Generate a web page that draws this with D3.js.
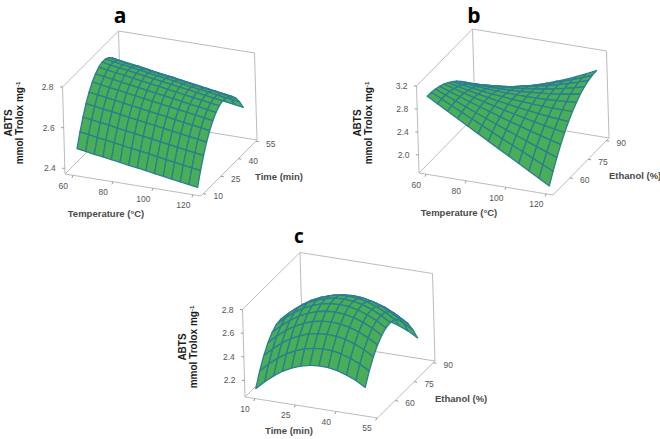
<!DOCTYPE html>
<html>
<head>
<meta charset="utf-8">
<script src="https://cdn.jsdelivr.net/npm/d3@7"></script>
<style>
html, body { margin: 0; padding: 0; background: #fff; }
svg { display: block; }
</style>
</head>
<body>
<div id="chart"></div>
<script>
// tick labels
const tempTicks = [60, 80, 100, 120];
const timeTicks = [10, 25, 40, 55];
const ethanolTicks = [60, 75, 90];
const ticksZA = [2.4, 2.6, 2.8];
const ticksZB = [2.0, 2.4, 2.8, 3.2];
const ticksZC = [2.2, 2.4, 2.6, 2.8];

// grid values (rows = depth axis, columns = front axis)
const tempGridA = [60, 64.3, 68.6, 72.9, 77.1, 81.4, 85.7, 90, 94.3, 98.6, 102.9, 107.1, 111.4, 115.7, 120];
const timeGridA = [12.1, 14.95, 17.8, 20.65, 23.5, 26.35, 29.2, 32.05, 34.9, 37.75, 40.6, 43.45, 46.3, 49.15, 52];
const tempGridB = [60, 65, 70, 75, 80, 85, 90, 95, 100, 105, 110, 115, 120];
const ethanolGridB = [49, 52.4, 55.7, 59.1, 62.5, 65.8, 69.2, 72.6, 75.9, 79.3, 82.7, 86, 89.4];
const timeGridC = [9.8, 13.2, 16.6, 19.9, 23.3, 26.7, 30.1, 33.5, 36.9, 40.2, 43.6, 47, 50.4];
const ethanolGridC = [47.6, 51, 54.5, 57.9, 61.3, 64.7, 68.2, 71.6, 75, 78.4, 81.9, 85.3, 88.7];

const abtsA = [
[2.480,2.473,2.466,2.460,2.453,2.446,2.439,2.433,2.426,2.419,2.412,2.405,2.399,2.392,2.385],
[2.546,2.539,2.532,2.526,2.519,2.512,2.505,2.499,2.492,2.485,2.478,2.471,2.465,2.458,2.451],
[2.603,2.596,2.589,2.583,2.576,2.569,2.562,2.556,2.549,2.542,2.535,2.528,2.522,2.515,2.508],
[2.653,2.646,2.639,2.633,2.626,2.619,2.612,2.606,2.599,2.592,2.585,2.578,2.572,2.565,2.558],
[2.693,2.686,2.679,2.673,2.666,2.659,2.652,2.646,2.639,2.632,2.625,2.618,2.612,2.605,2.598],
[2.726,2.719,2.712,2.706,2.699,2.692,2.685,2.679,2.672,2.665,2.658,2.651,2.645,2.638,2.631],
[2.750,2.743,2.736,2.730,2.723,2.716,2.709,2.703,2.696,2.689,2.682,2.675,2.669,2.662,2.655],
[2.766,2.759,2.752,2.746,2.739,2.732,2.725,2.719,2.712,2.705,2.698,2.691,2.685,2.678,2.671],
[2.774,2.767,2.760,2.754,2.747,2.740,2.733,2.727,2.720,2.713,2.706,2.699,2.693,2.686,2.679],
[2.773,2.766,2.759,2.753,2.746,2.739,2.732,2.726,2.719,2.712,2.705,2.698,2.692,2.685,2.678],
[2.764,2.757,2.750,2.744,2.737,2.730,2.723,2.717,2.710,2.703,2.696,2.689,2.683,2.676,2.669],
[2.746,2.739,2.732,2.726,2.719,2.712,2.705,2.699,2.692,2.685,2.678,2.671,2.665,2.658,2.651],
[2.721,2.714,2.707,2.701,2.694,2.687,2.680,2.674,2.667,2.660,2.653,2.646,2.640,2.633,2.626],
[2.687,2.680,2.673,2.667,2.660,2.653,2.646,2.640,2.633,2.626,2.619,2.612,2.606,2.599,2.592],
[2.644,2.637,2.630,2.624,2.617,2.610,2.603,2.597,2.590,2.583,2.576,2.569,2.563,2.556,2.549]
];

const abtsB = [
[2.980,2.878,2.777,2.675,2.573,2.472,2.370,2.268,2.167,2.065,1.963,1.862,1.760],
[2.976,2.887,2.800,2.712,2.624,2.538,2.452,2.365,2.281,2.196,2.111,2.028,1.944],
[2.961,2.885,2.811,2.736,2.663,2.592,2.520,2.450,2.381,2.312,2.243,2.177,2.111],
[2.936,2.872,2.811,2.749,2.690,2.633,2.576,2.520,2.466,2.413,2.361,2.312,2.263],
[2.901,2.849,2.800,2.752,2.705,2.661,2.618,2.577,2.538,2.499,2.464,2.430,2.398],
[2.856,2.815,2.778,2.741,2.707,2.676,2.647,2.619,2.595,2.571,2.551,2.533,2.517],
[2.800,2.770,2.744,2.719,2.697,2.679,2.663,2.649,2.638,2.630,2.624,2.621,2.620],
[2.734,2.714,2.699,2.685,2.676,2.669,2.665,2.664,2.667,2.672,2.681,2.692,2.707],
[2.657,2.648,2.643,2.640,2.642,2.646,2.654,2.666,2.682,2.700,2.722,2.749,2.778],
[2.571,2.571,2.576,2.582,2.595,2.612,2.631,2.655,2.682,2.714,2.749,2.789,2.833],
[2.475,2.483,2.497,2.514,2.536,2.563,2.594,2.629,2.669,2.713,2.761,2.814,2.871],
[2.368,2.384,2.407,2.434,2.465,2.503,2.544,2.590,2.641,2.697,2.757,2.823,2.894],
[2.250,2.275,2.306,2.341,2.382,2.429,2.480,2.537,2.599,2.666,2.739,2.817,2.900]
];

const abtsC = [
[2.127,2.199,2.260,2.311,2.350,2.380,2.398,2.406,2.403,2.390,2.365,2.331,2.285],
[2.241,2.312,2.372,2.422,2.460,2.489,2.506,2.513,2.509,2.495,2.469,2.434,2.387],
[2.334,2.404,2.464,2.513,2.550,2.578,2.594,2.600,2.595,2.581,2.554,2.518,2.470],
[2.406,2.475,2.534,2.582,2.619,2.646,2.662,2.667,2.662,2.646,2.619,2.582,2.534],
[2.456,2.525,2.583,2.631,2.668,2.695,2.710,2.715,2.709,2.693,2.665,2.628,2.579],
[2.487,2.555,2.613,2.661,2.697,2.723,2.738,2.743,2.737,2.721,2.692,2.655,2.606],
[2.495,2.564,2.622,2.670,2.705,2.732,2.747,2.751,2.745,2.729,2.701,2.663,2.614],
[2.483,2.552,2.610,2.658,2.693,2.720,2.735,2.740,2.734,2.718,2.689,2.652,2.603],
[2.450,2.519,2.577,2.625,2.661,2.688,2.703,2.708,2.703,2.687,2.659,2.622,2.573],
[2.395,2.464,2.523,2.572,2.608,2.636,2.651,2.657,2.652,2.636,2.609,2.572,2.524],
[2.320,2.390,2.449,2.498,2.536,2.564,2.580,2.587,2.582,2.567,2.540,2.505,2.457],
[2.222,2.293,2.354,2.404,2.442,2.471,2.488,2.495,2.491,2.478,2.452,2.417,2.370],
[2.105,2.177,2.238,2.289,2.328,2.359,2.377,2.385,2.382,2.369,2.345,2.311,2.265]
];

const width = 660;
const height = 439;
const sansFont = "'Liberation Sans', Arial, sans-serif";

const svg = d3.select("#chart").append("svg")
    .attr("width", width)
    .attr("height", height)
    .style("background", "#fff");

// origin + the three box edges in pixels, everything else is layout for the panel
const panels = [
  {
    name: "a", titleX: 120, titleY: 23, titleSize: 21,
    origin: [65, 174], ex: [136, 22], ey: [56, -56], ez: [-2.5, -87],
    xDomain: [56, 124], yDomain: [8.1, 56], zDomain: [2.372, 2.8],
    xGrid: tempGridA, yGrid: timeGridA, grid: abtsA,
    xTicks: tempTicks, yTicks: timeTicks, zTicks: ticksZA, zFormat: ".1f",
    xLabel: "Temperature (°C)", xLabelPos: [106, 217],
    yLabel: "Time (min)", yLabelPos: [255, 180],
    abtsX: 12, mmolX: 23, labelY: 123
  },
  {
    name: "b", titleX: 474, titleY: 22.5, titleSize: 21,
    origin: [419, 173], ex: [134, 22], ey: [56, -57], ez: [-2.5, -87],
    xDomain: [56.5, 123.5], yDomain: [46.2, 92.2], zDomain: [1.683, 3.2],
    xGrid: tempGridB, yGrid: ethanolGridB, grid: abtsB,
    xTicks: tempTicks, yTicks: ethanolTicks, zTicks: ticksZB, zFormat: ".1f",
    xLabel: "Temperature (°C)", xLabelPos: [459, 216],
    yLabel: "Ethanol (%)", yLabelPos: [609, 179],
    abtsX: 361, mmolX: 372, labelY: 123
  },
  {
    name: "c", titleX: 299, titleY: 242.5, titleSize: 19,
    origin: [245, 397], ex: [132.5, 21], ey: [57.5, -57], ez: [-2.5, -87.5],
    xDomain: [6.4, 55.3], yDomain: [46.2, 91.4], zDomain: [2.059, 2.8],
    xGrid: timeGridC, yGrid: ethanolGridC, grid: abtsC,
    xTicks: timeTicks, yTicks: ethanolTicks, zTicks: ticksZC, zFormat: ".1f",
    xLabel: "Time (min)", xLabelPos: [289, 434],
    yLabel: "Ethanol (%)", yLabelPos: [435, 402],
    abtsX: 186, mmolX: 197, labelY: 347
  }
];

const drawPanel = (p) => {
  const g = svg.append("g");

  const x = d3.scaleLinear().domain(p.xDomain).range([0, 1]);
  const y = d3.scaleLinear().domain(p.yDomain).range([0, 1]);
  const z = d3.scaleLinear().domain(p.zDomain).range([0, 1]);

  // oblique projection, fractions of the box to screen pixels
  const toScreen = (a, b, c) => [
    p.origin[0] + a * p.ex[0] + b * p.ey[0] + c * p.ez[0],
    p.origin[1] + a * p.ex[1] + b * p.ey[1] + c * p.ez[1]
  ];
  const line = d3.line();

  // box edges that are drawn in the picture
  const edges = [
    [[0,0,0],[1,0,0]], [[1,0,0],[1,1,0]], [[1,1,0],[0,1,0]], [[0,1,0],[0,0,0]],
    [[0,0,0],[0,0,1]], [[0,1,0],[0,1,1]], [[1,1,0],[1,1,1]],
    [[0,0,1],[0,1,1]], [[0,1,1],[1,1,1]]
  ];
  g.selectAll("path.edge").data(edges).enter().append("path")
    .attr("class", "edge")
    .attr("d", d => line(d.map(c => toScreen(c[0], c[1], c[2]))))
    .attr("fill", "none")
    .attr("stroke", "#bcbcbc")
    .attr("stroke-width", 1);

  // x ticks
  p.xTicks.forEach(t => {
    const a = toScreen(x(t), 0, 0);
    g.append("path").attr("d", line([a, [a[0] - 1, a[1] + 2.5]])).attr("stroke", "#999").attr("fill", "none");
    g.append("text").text(t)
      .attr("x", a[0] - 9.7).attr("y", a[1] + 13.5)
      .attr("text-anchor", "middle")
      .attr("font-family", sansFont).attr("font-size", 8.5).attr("fill", "#555");
  });
  // y ticks
  p.yTicks.forEach(t => {
    const a = toScreen(1, y(t), 0);
    g.append("path").attr("d", line([a, [a[0] + 3, a[1] + 0.5]])).attr("stroke", "#999").attr("fill", "none");
    g.append("text").text(t)
      .attr("x", a[0] + 15).attr("y", a[1] + 5.5)
      .attr("text-anchor", "middle")
      .attr("font-family", sansFont).attr("font-size", 8.5).attr("fill", "#555");
  });
  // z ticks
  const zFormat = d3.format(p.zFormat);
  p.zTicks.forEach(t => {
    const a = toScreen(0, 0, z(t));
    g.append("path").attr("d", line([a, [a[0] - 2.5, a[1]]])).attr("stroke", "#999").attr("fill", "none");
    g.append("text").text(zFormat(t))
      .attr("x", a[0] - 9).attr("y", a[1] + 3)
      .attr("text-anchor", "end")
      .attr("font-family", sansFont).attr("font-size", 8.5).attr("fill", "#555");
  });

  // surface cells, far ones first
  const cells = [];
  for (let i = 0; i < p.yGrid.length - 1; i++) {
    for (let j = 0; j < p.xGrid.length - 1; j++) {
      const pts = [[i, j], [i, j + 1], [i + 1, j + 1], [i + 1, j]].map(c =>
        toScreen(x(p.xGrid[c[1]]), y(p.yGrid[c[0]]), z(p.grid[c[0]][c[1]])));
      const floor = toScreen(x(p.xGrid[j]), y(p.yGrid[i]), 0);
      cells.push({ pts: pts, depth: floor[1] });
    }
  }
  cells.sort((m, n) => m.depth - n.depth);
  g.selectAll("path.cell").data(cells).enter().append("path")
    .attr("class", "cell")
    .attr("d", d => line(d.pts) + "Z")
    .attr("fill", "#4aad58")
    .attr("stroke", "#2a7f90")
    .attr("stroke-width", 1.3)
    .attr("stroke-linejoin", "round");

  // panel letter
  g.append("text").text(p.name)
    .attr("x", p.titleX).attr("y", p.titleY)
    .attr("text-anchor", "middle")
    .attr("font-family", "'Open Sans', sans-serif")
    .attr("font-weight", 700)
    .attr("font-size", p.titleSize)
    .attr("fill", "#000");

  // axis titles
  g.append("text").text(p.xLabel)
    .attr("x", p.xLabelPos[0]).attr("y", p.xLabelPos[1])
    .attr("text-anchor", "middle")
    .attr("font-family", sansFont).attr("font-weight", 700).attr("font-size", 9.5).attr("fill", "#4a4a4a");
  g.append("text").text(p.yLabel)
    .attr("x", p.yLabelPos[0]).attr("y", p.yLabelPos[1])
    .attr("font-family", sansFont).attr("font-weight", 700).attr("font-size", 9.5).attr("fill", "#4a4a4a");

  g.append("text").text("ABTS")
    .attr("transform", `translate(${p.abtsX},${p.labelY}) rotate(-90)`)
    .attr("text-anchor", "middle")
    .attr("font-family", sansFont).attr("font-weight", 700).attr("font-size", 10).attr("fill", "#1a1a1a");
  const mmol = g.append("text")
    .attr("transform", `translate(${p.mmolX},${p.labelY}) rotate(-90)`)
    .attr("text-anchor", "middle")
    .attr("font-family", sansFont).attr("font-weight", 700).attr("font-size", 10).attr("fill", "#1a1a1a");
  mmol.append("tspan").text("mmol Trolox mg");
  mmol.append("tspan").text("-1").attr("font-size", 6).attr("dy", -3);
};

panels.forEach(drawPanel);
</script>
</body>
</html>
